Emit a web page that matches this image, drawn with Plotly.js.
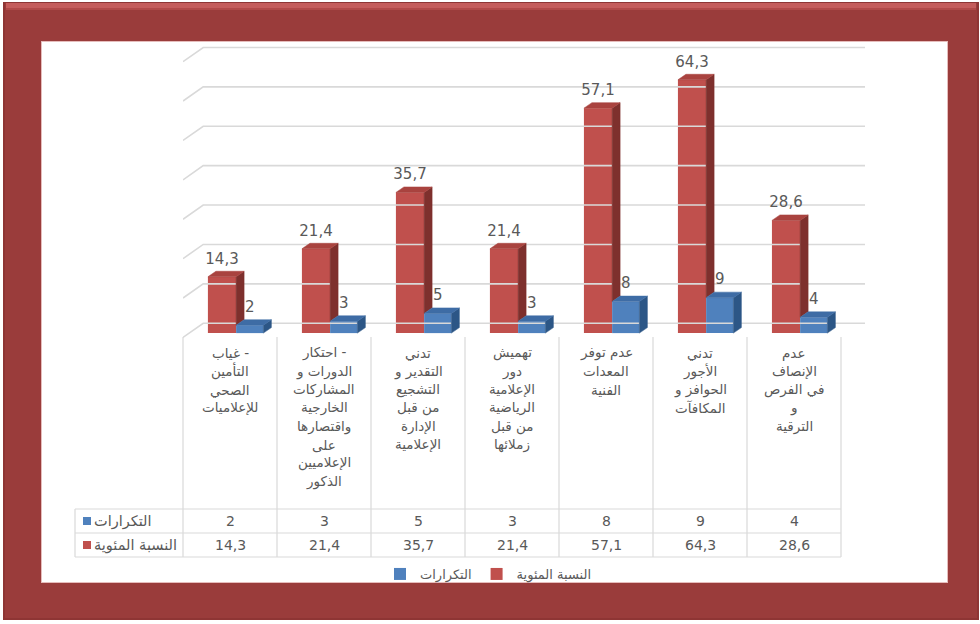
<!DOCTYPE html>
<html>
<head>
<meta charset="utf-8">
<script src="https://cdn.plot.ly/plotly-3.0.1.min.js"></script>
<style>
html,body{margin:0;padding:0;background:#ffffff;}
#chart{width:980px;height:624px;}
</style>
</head>
<body>
<div id="chart"></div>
<script>
// ---------- DATA ----------
const categories = [
  "غياب -<br>التأمين<br>الصحي<br>للإعلاميات",
  "احتكار -<br>الدورات و<br>المشاركات<br>الخارجية<br>واقتصارها<br>على<br>الإعلاميين<br>الذكور",
  "تدني<br>التقدير و<br>التشجيع<br>من قبل<br>الإدارة<br>الإعلامية",
  "تهميش<br>دور<br>الإعلامية<br>الرياضية<br>من قبل<br>زملائها",
  "عدم توفر<br>المعدات<br>الفنية",
  "تدني<br>الأجور<br>الحوافز و<br>المكافآت",
  "عدم<br>الإنصاف<br>في الفرص<br>و<br>الترقية"
];
const percentValues = [14.3, 21.4, 35.7, 21.4, 57.1, 64.3, 28.6];
const countValues = [2, 3, 5, 3, 8, 9, 4];
const percentName = "النسبة المئوية";
const countName = "التكرارات";
const gridValues = [0, 10, 20, 30, 40, 50, 60, 70];

// ---------- LAYOUT HELPERS ----------
const W = 980, H = 624;
const M = {l: 183, r: 115, t: 40, b: 284};
const plotW = W - M.l - M.r, plotH = H - M.t - M.b;
const px = x => (x - M.l) / plotW;
const py = y => 1 - (y - M.t) / plotH;
const fmt = v => String(v).replace('.', ',');

const RED = '#C0504D', RED_TOP = '#A9433F', RED_SIDE = '#7E302D';
const BLUE = '#4F81BD', BLUE_TOP = '#3E6CA5', BLUE_SIDE = '#2C5686';
const GRAY_TXT = '#595959', GRID = '#D9D9D9';

const idx = categories.map((_, i) => i);
const dx = 0.085, dy = 1.4;        // 3-D depth offsets (data units)
const redOff = -0.235, redW = 0.30;
const blueOff = 0.065, blueW = 0.29;
const wallDx = 0.215, wallDy = 3.6, wallShift = 2.5;

const traces = [];

// gridlines on back wall with slanted side-wall part
gridValues.forEach(v => {
  traces.push({
    type: 'scatter', mode: 'lines', hoverinfo: 'skip', showlegend: false,
    x: [-0.5, -0.5 + wallDx, 6.755],
    y: [v + wallShift - wallDy, v + wallShift, v + wallShift],
    line: {color: GRID, width: 1.6}
  });
});

// front faces as bars
traces.push({
  type: 'bar', name: percentName, x: idx, y: percentValues,
  offset: redOff, width: redW, marker: {color: RED, line: {width: 0}},
  legendrank: 2, hoverinfo: 'skip'
});
traces.push({
  type: 'bar', name: countName, x: idx, y: countValues,
  offset: blueOff, width: blueW, marker: {color: BLUE, line: {width: 0}},
  legendrank: 1, hoverinfo: 'skip'
});

function poly(xs, ys, color) {
  traces.push({
    type: 'scatter', mode: 'lines', fill: 'toself', fillcolor: color,
    x: xs, y: ys, line: {color: color, width: 0.5},
    hoverinfo: 'skip', showlegend: false
  });
}

// 3-D side and top faces (computed from the same values)
idx.forEach(i => {
  const v = percentValues[i], b = countValues[i];
  const rl = i + redOff, rr = rl + redW;
  poly([rr, rr + dx, rr + dx, rr, rr], [b, b + dy, v + dy, v, b], RED_SIDE);
  poly([rl, rr, rr + dx, rl + dx, rl], [v, v, v + dy, v + dy, v], RED_TOP);
});
idx.forEach(i => {
  const b = countValues[i];
  const bl = i + blueOff, br = bl + blueW;
  poly([br, br + dx, br + dx, br, br], [0, dy, b + dy, b, 0], BLUE_SIDE);
  poly([bl, br, br + dx, bl + dx, bl], [b, b, b + dy, b + dy, b], BLUE_TOP);
});

// data labels
traces.push({
  type: 'scatter', mode: 'text', hoverinfo: 'skip', showlegend: false,
  x: idx.map(i => i + redOff + redW / 2), y: percentValues.map(v => v + 4.3),
  text: percentValues.map(fmt), textposition: 'middle center',
  textfont: {family: 'DejaVu Sans, Liberation Sans', size: 15, color: GRAY_TXT}
});
traces.push({
  type: 'scatter', mode: 'text', hoverinfo: 'skip', showlegend: false,
  x: idx.map(i => i + blueOff + blueW / 2), y: countValues.map(v => v + 4.3),
  text: countValues.map(fmt), textposition: 'middle center',
  textfont: {family: 'DejaVu Sans, Liberation Sans', size: 15, color: GRAY_TXT}
});

// ---------- SHAPES (frame + table) ----------
const shapes = [];
const rectPx = (x0, y0, x1, y1, fill, line) => shapes.push({
  type: 'rect', xref: 'paper', yref: 'paper', layer: 'below',
  x0: px(x0), x1: px(x1), y0: py(y0), y1: py(y1),
  fillcolor: fill, line: line || {width: 0}
});
const linePx = (x0, y0, x1, y1, color, w) => shapes.push({
  type: 'line', xref: 'paper', yref: 'paper', layer: 'below',
  x0: px(x0), x1: px(x1), y0: py(y0), y1: py(y1),
  line: {color: color, width: w}
});

// frame
rectPx(3, 2, 979, 620, '#8E3534');
rectPx(5, 3, 977, 618, '#9A3C3B');
rectPx(6, 3, 976, 8, '#C45C5B');
rectPx(6, 8, 976, 10, '#B14948');
rectPx(41, 41, 948, 583, '#E6BDBC');
rectPx(42, 42, 947, 582, '#FFFFFF');

// table grid
const colX = k => 183 + 94 * k;
for (let k = 0; k <= 7; k++) linePx(colX(k), 337, colX(k), 557, GRID, 1.2);
linePx(75, 509, 75, 557, GRID, 1.2);
[509, 533, 557].forEach(y => linePx(75, y, colX(7), y, GRID, 1.2));
// header squares
rectPx(83, 517, 91, 525, BLUE);
rectPx(83, 541, 91, 549, RED);

// ---------- ANNOTATIONS ----------
const annotations = [];
const catFont = {family: 'DejaVu Sans', size: 13.5, color: GRAY_TXT};
categories.forEach((c, i) => {
  c.split('<br>').forEach((ln, j) => {
    annotations.push({
      xref: 'x', yref: 'paper', x: i, y: py(353 + 18.3 * j),
      xanchor: 'center', yanchor: 'middle', showarrow: false,
      text: ln, font: catFont
    });
  });
});
const numFont = {family: 'DejaVu Sans, Liberation Sans', size: 14, color: GRAY_TXT};
idx.forEach(i => {
  annotations.push({xref: 'x', yref: 'paper', x: i, y: py(521), showarrow: false,
    xanchor: 'center', yanchor: 'middle', text: fmt(countValues[i]), font: numFont});
  annotations.push({xref: 'x', yref: 'paper', x: i, y: py(545), showarrow: false,
    xanchor: 'center', yanchor: 'middle', text: fmt(percentValues[i]), font: numFont});
});
const headFont = {family: 'DejaVu Sans', size: 14.5, color: GRAY_TXT};
annotations.push({xref: 'paper', yref: 'paper', x: px(92), y: py(521), showarrow: false,
  xanchor: 'left', yanchor: 'middle', text: countName, font: headFont});
annotations.push({xref: 'paper', yref: 'paper', x: px(92), y: py(545), showarrow: false,
  xanchor: 'left', yanchor: 'middle', text: percentName, font: headFont});

const layout = {
  width: W, height: H,
  margin: M,
  paper_bgcolor: '#FFFFFF',
  plot_bgcolor: 'rgba(0,0,0,0)',
  barmode: 'overlay',
  hovermode: false,
  showlegend: true,
  legend: {
    orientation: 'h', x: px(380), xanchor: 'left', y: py(574), yanchor: 'middle',
    bgcolor: 'rgba(0,0,0,0)', font: {family: 'DejaVu Sans', size: 13, color: GRAY_TXT},
    itemwidth: 30
  },
  xaxis: {range: [-0.5, 6.755], showgrid: false, zeroline: false, showticklabels: false,
    ticks: '', showline: false, fixedrange: true},
  yaxis: {range: [-1.75, 74.4], showgrid: false, zeroline: false, showticklabels: false,
    ticks: '', showline: false, fixedrange: true},
  shapes: shapes,
  annotations: annotations
};

Plotly.newPlot('chart', traces, layout, {displayModeBar: false, staticPlot: true});
</script>
</body>
</html>
